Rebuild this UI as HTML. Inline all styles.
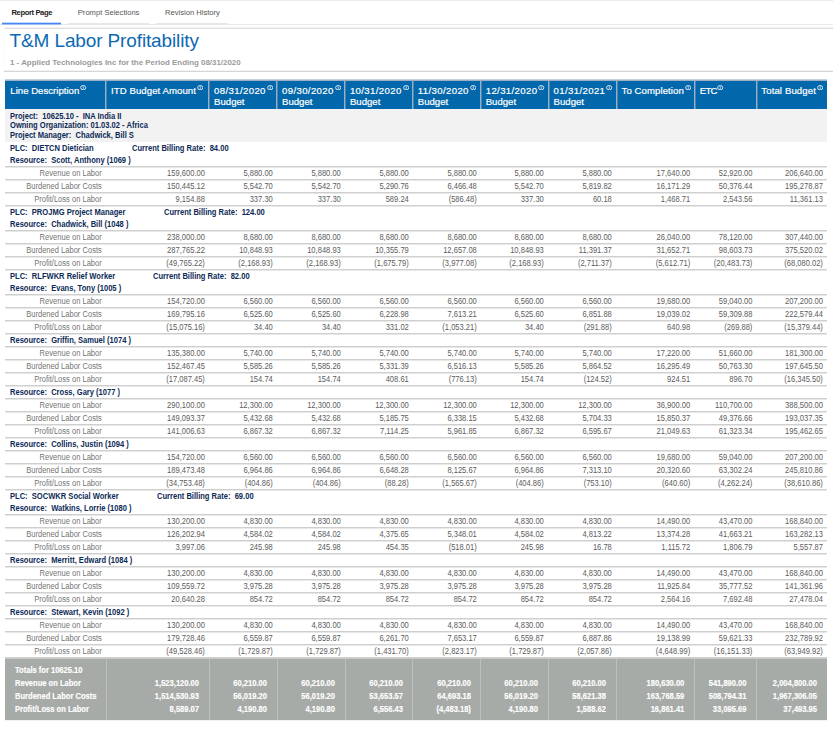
<!DOCTYPE html>
<html><head><meta charset="utf-8"><title>T&amp;M Labor Profitability</title>
<style>
html,body{margin:0;padding:0;background:#fff;}
body{width:833px;height:729px;position:relative;overflow:hidden;font-family:"Liberation Sans",sans-serif;}
.a{position:absolute;white-space:pre;}
.ln{position:absolute;background:#cfcfcf;height:1px;box-shadow:0 1px 0 #e8e8e8;}
.b{font-weight:700;color:#0c2a56;font-size:8.3px;transform:scaleX(0.9108);transform-origin:left center;}
.lab{color:#747474;font-size:8.3px;text-align:right;transform:scaleX(0.9108);transform-origin:right center;}
.num{color:#5c5c5c;font-size:8.3px;text-align:right;transform:scaleX(0.9108);transform-origin:right center;}
.tn{color:#fff;-webkit-text-stroke:0.15px #fff;font-size:8.3px;font-weight:700;text-align:right;transform:scaleX(0.9108);transform-origin:right center;}
.tl{color:#fff;-webkit-text-stroke:0.15px #fff;font-size:8.3px;font-weight:700;transform:scaleX(0.9108);transform-origin:left center;}
.hd{color:#fff;-webkit-text-stroke:0.2px #fff;font-size:9.6px;letter-spacing:0px;line-height:11px;}
.hd svg{position:relative;top:-3.6px;margin-left:0.9px;margin-right:-7px;}
.dt{letter-spacing:0.37px;}
.tab{font-size:7.6px;color:#555;}
</style></head>
<body>
<div class="a" style="left:0;top:0;width:833px;height:1px;background:#ebebeb"></div>
<div class="a" style="left:68px;top:23px;width:81px;height:1px;background:#e7e7e7"></div>
<div class="a" style="left:156px;top:23px;width:72px;height:1px;background:#e7e7e7"></div>
<div class="a" style="left:0;top:24px;width:228px;height:1px;background:#e7e7e7"></div>
<div class="a" style="left:228px;top:24px;width:605px;height:1px;background:#ececec"></div>
<div class="a" style="left:2px;top:22px;width:59px;height:1px;background:#c3d7fb"></div>
<div class="a" style="left:2px;top:23px;width:59px;height:1px;background:#4685f5"></div>
<div class="a" style="left:2px;top:24px;width:59px;height:1px;background:#9dbef9"></div>
<div class="a tab" style="left:11.5px;top:7.9px;line-height:10px;font-weight:700;color:#222;letter-spacing:-0.38px">Report Page</div>
<div class="a tab" style="left:77.8px;top:7.9px;line-height:10px;">Prompt Selections</div>
<div class="a tab" style="left:165px;top:7.9px;line-height:10px;">Revision History</div>
<div class="a" style="left:4px;top:27px;width:829px;height:1px;background:#f2f2f2"></div>
<div class="a" style="left:4px;top:28px;width:829px;height:1px;background:#e0e0e0"></div>
<div class="a" style="left:4px;top:28px;width:1px;height:43px;background:#fafafa"></div>
<div class="a" style="left:4px;top:70px;width:829px;height:1px;background:#f3f3f3"></div>
<div class="a" style="left:4px;top:71px;width:829px;height:1px;background:#d6d6d6"></div>
<div class="a" style="left:9.6px;top:30.1px;font-size:19px;letter-spacing:-0.13px;line-height:22px;color:#0c69b3;">T&amp;M Labor Profitability</div>
<div class="a" style="left:10px;top:58.4px;font-size:7.92px;line-height:10px;color:#9a9a9a;font-weight:700;">1 - Applied Technologies Inc for the Period Ending 08/31/2020</div>
<div class="a" style="left:5px;top:79px;width:822px;height:30px;background:#0268ab"></div>
<div class="a" style="left:105px;top:79px;width:1px;height:30px;background:#96b0c6"></div>
<div class="a" style="left:106px;top:79px;width:1px;height:30px;background:#4c86b7"></div>
<div class="a" style="left:208px;top:79px;width:1px;height:30px;background:#96b0c6"></div>
<div class="a" style="left:209px;top:79px;width:1px;height:30px;background:#4c86b7"></div>
<div class="a" style="left:276px;top:79px;width:1px;height:30px;background:#96b0c6"></div>
<div class="a" style="left:277px;top:79px;width:1px;height:30px;background:#4c86b7"></div>
<div class="a" style="left:344px;top:79px;width:1px;height:30px;background:#96b0c6"></div>
<div class="a" style="left:345px;top:79px;width:1px;height:30px;background:#4c86b7"></div>
<div class="a" style="left:412px;top:79px;width:1px;height:30px;background:#96b0c6"></div>
<div class="a" style="left:413px;top:79px;width:1px;height:30px;background:#4c86b7"></div>
<div class="a" style="left:480px;top:79px;width:1px;height:30px;background:#96b0c6"></div>
<div class="a" style="left:481px;top:79px;width:1px;height:30px;background:#4c86b7"></div>
<div class="a" style="left:548px;top:79px;width:1px;height:30px;background:#96b0c6"></div>
<div class="a" style="left:549px;top:79px;width:1px;height:30px;background:#4c86b7"></div>
<div class="a" style="left:616px;top:79px;width:1px;height:30px;background:#96b0c6"></div>
<div class="a" style="left:617px;top:79px;width:1px;height:30px;background:#4c86b7"></div>
<div class="a" style="left:694px;top:79px;width:1px;height:30px;background:#96b0c6"></div>
<div class="a" style="left:695px;top:79px;width:1px;height:30px;background:#4c86b7"></div>
<div class="a" style="left:756px;top:79px;width:1px;height:30px;background:#96b0c6"></div>
<div class="a" style="left:757px;top:79px;width:1px;height:30px;background:#4c86b7"></div>
<div class="a" style="left:5px;top:79px;width:822px;height:1px;background:#c3d2de"></div>
<div class="a" style="left:5px;top:80px;width:822px;height:1px;background:#9fb2c5"></div>
<div class="a hd" style="left:10.3px;top:85.0px;letter-spacing:0.01px">Line Description<svg width="6.4" height="5.4" viewBox="0 0 12.8 10.8"><ellipse cx="6.4" cy="5.4" rx="5.2" ry="4.3" fill="none" stroke="#e6eef7" stroke-width="1.9"/><rect x="5.5" y="2.8" width="1.8" height="5.2" fill="#c9dcee"/></svg></div>
<div class="a hd" style="left:111.1px;top:85.0px;letter-spacing:0.07px">ITD Budget Amount<svg width="6.4" height="5.4" viewBox="0 0 12.8 10.8"><ellipse cx="6.4" cy="5.4" rx="5.2" ry="4.3" fill="none" stroke="#e6eef7" stroke-width="1.9"/><rect x="5.5" y="2.8" width="1.8" height="5.2" fill="#c9dcee"/></svg></div>
<div class="a hd" style="left:214.10000000000002px;top:85.0px"><span class="dt">08/31/2020</span><svg width="6.4" height="5.4" viewBox="0 0 12.8 10.8"><ellipse cx="6.4" cy="5.4" rx="5.2" ry="4.3" fill="none" stroke="#e6eef7" stroke-width="1.9"/><rect x="5.5" y="2.8" width="1.8" height="5.2" fill="#c9dcee"/></svg>
Budget</div>
<div class="a hd" style="left:282.0px;top:85.0px"><span class="dt">09/30/2020</span><svg width="6.4" height="5.4" viewBox="0 0 12.8 10.8"><ellipse cx="6.4" cy="5.4" rx="5.2" ry="4.3" fill="none" stroke="#e6eef7" stroke-width="1.9"/><rect x="5.5" y="2.8" width="1.8" height="5.2" fill="#c9dcee"/></svg>
Budget</div>
<div class="a hd" style="left:349.90000000000003px;top:85.0px"><span class="dt">10/31/2020</span><svg width="6.4" height="5.4" viewBox="0 0 12.8 10.8"><ellipse cx="6.4" cy="5.4" rx="5.2" ry="4.3" fill="none" stroke="#e6eef7" stroke-width="1.9"/><rect x="5.5" y="2.8" width="1.8" height="5.2" fill="#c9dcee"/></svg>
Budget</div>
<div class="a hd" style="left:417.8px;top:85.0px"><span class="dt">11/30/2020</span><svg width="6.4" height="5.4" viewBox="0 0 12.8 10.8"><ellipse cx="6.4" cy="5.4" rx="5.2" ry="4.3" fill="none" stroke="#e6eef7" stroke-width="1.9"/><rect x="5.5" y="2.8" width="1.8" height="5.2" fill="#c9dcee"/></svg>
Budget</div>
<div class="a hd" style="left:485.7px;top:85.0px"><span class="dt">12/31/2020</span><svg width="6.4" height="5.4" viewBox="0 0 12.8 10.8"><ellipse cx="6.4" cy="5.4" rx="5.2" ry="4.3" fill="none" stroke="#e6eef7" stroke-width="1.9"/><rect x="5.5" y="2.8" width="1.8" height="5.2" fill="#c9dcee"/></svg>
Budget</div>
<div class="a hd" style="left:553.5999999999999px;top:85.0px"><span class="dt">01/31/2021</span><svg width="6.4" height="5.4" viewBox="0 0 12.8 10.8"><ellipse cx="6.4" cy="5.4" rx="5.2" ry="4.3" fill="none" stroke="#e6eef7" stroke-width="1.9"/><rect x="5.5" y="2.8" width="1.8" height="5.2" fill="#c9dcee"/></svg>
Budget</div>
<div class="a hd" style="left:621.5px;top:85.0px;letter-spacing:0.08px">To Completion<svg width="6.4" height="5.4" viewBox="0 0 12.8 10.8"><ellipse cx="6.4" cy="5.4" rx="5.2" ry="4.3" fill="none" stroke="#e6eef7" stroke-width="1.9"/><rect x="5.5" y="2.8" width="1.8" height="5.2" fill="#c9dcee"/></svg></div>
<div class="a hd" style="left:699.8px;top:85.0px;letter-spacing:-0.8px">ETC<svg width="6.4" height="5.4" viewBox="0 0 12.8 10.8"><ellipse cx="6.4" cy="5.4" rx="5.2" ry="4.3" fill="none" stroke="#e6eef7" stroke-width="1.9"/><rect x="5.5" y="2.8" width="1.8" height="5.2" fill="#c9dcee"/></svg></div>
<div class="a hd" style="left:761.3px;top:85.0px;letter-spacing:0.11px">Total Budget<svg width="6.4" height="5.4" viewBox="0 0 12.8 10.8"><ellipse cx="6.4" cy="5.4" rx="5.2" ry="4.3" fill="none" stroke="#e6eef7" stroke-width="1.9"/><rect x="5.5" y="2.8" width="1.8" height="5.2" fill="#c9dcee"/></svg></div>
<div class="a" style="left:5px;top:109px;width:822px;height:33px;background:#f2f2f2"></div>
<div class="a b" style="left:10px;top:111.6px;line-height:9.6px">Project:  10625.10 -  INA India II
Owning Organization: 01.03.02 - Africa
Project Manager:  Chadwick, Bill S</div>
<div class="a b" style="left:10px;top:141.6px;line-height:13px">PLC:  DIETCN Dietician</div>
<div class="a b" style="left:131.8px;top:141.6px;line-height:13px">Current Billing Rate:  84.00</div>
<div class="a b" style="left:10px;top:153.6px;line-height:13px">Resource:  Scott, Anthony (1069 )</div>
<div class="ln" style="left:5px;top:166px;width:822px"></div>
<div class="a lab" style="left:5px;top:166.6px;width:96.80px;line-height:13px">Revenue on Labor</div>
<div class="a num" style="left:105.8px;top:166.6px;width:98.90px;line-height:13px">159,600.00</div>
<div class="a num" style="left:208.8px;top:166.6px;width:63.80px;line-height:13px">5,880.00</div>
<div class="a num" style="left:276.7px;top:166.6px;width:63.80px;line-height:13px">5,880.00</div>
<div class="a num" style="left:344.6px;top:166.6px;width:63.80px;line-height:13px">5,880.00</div>
<div class="a num" style="left:412.5px;top:166.6px;width:63.80px;line-height:13px">5,880.00</div>
<div class="a num" style="left:480.4px;top:166.6px;width:63.80px;line-height:13px">5,880.00</div>
<div class="a num" style="left:548.3px;top:166.6px;width:63.80px;line-height:13px">5,880.00</div>
<div class="a num" style="left:616.2px;top:166.6px;width:74.20px;line-height:13px">17,640.00</div>
<div class="a num" style="left:694.5px;top:166.6px;width:57.40px;line-height:13px">52,920.00</div>
<div class="a num" style="left:756px;top:166.6px;width:66.90px;line-height:13px">206,640.00</div>
<div class="ln" style="left:5px;top:179px;width:822px"></div>
<div class="a lab" style="left:5px;top:179.6px;width:96.80px;line-height:13px">Burdened Labor Costs</div>
<div class="a num" style="left:105.8px;top:179.6px;width:98.90px;line-height:13px">150,445.12</div>
<div class="a num" style="left:208.8px;top:179.6px;width:63.80px;line-height:13px">5,542.70</div>
<div class="a num" style="left:276.7px;top:179.6px;width:63.80px;line-height:13px">5,542.70</div>
<div class="a num" style="left:344.6px;top:179.6px;width:63.80px;line-height:13px">5,290.76</div>
<div class="a num" style="left:412.5px;top:179.6px;width:63.80px;line-height:13px">6,466.48</div>
<div class="a num" style="left:480.4px;top:179.6px;width:63.80px;line-height:13px">5,542.70</div>
<div class="a num" style="left:548.3px;top:179.6px;width:63.80px;line-height:13px">5,819.82</div>
<div class="a num" style="left:616.2px;top:179.6px;width:74.20px;line-height:13px">16,171.29</div>
<div class="a num" style="left:694.5px;top:179.6px;width:57.40px;line-height:13px">50,376.44</div>
<div class="a num" style="left:756px;top:179.6px;width:66.90px;line-height:13px">195,278.87</div>
<div class="ln" style="left:5px;top:192px;width:822px"></div>
<div class="a lab" style="left:5px;top:192.6px;width:96.80px;line-height:13px">Profit/Loss on Labor</div>
<div class="a num" style="left:105.8px;top:192.6px;width:98.90px;line-height:13px">9,154.88</div>
<div class="a num" style="left:208.8px;top:192.6px;width:63.80px;line-height:13px">337.30</div>
<div class="a num" style="left:276.7px;top:192.6px;width:63.80px;line-height:13px">337.30</div>
<div class="a num" style="left:344.6px;top:192.6px;width:63.80px;line-height:13px">589.24</div>
<div class="a num" style="left:412.5px;top:192.6px;width:63.80px;line-height:13px">(586.48)</div>
<div class="a num" style="left:480.4px;top:192.6px;width:63.80px;line-height:13px">337.30</div>
<div class="a num" style="left:548.3px;top:192.6px;width:63.80px;line-height:13px">60.18</div>
<div class="a num" style="left:616.2px;top:192.6px;width:74.20px;line-height:13px">1,468.71</div>
<div class="a num" style="left:694.5px;top:192.6px;width:57.40px;line-height:13px">2,543.56</div>
<div class="a num" style="left:756px;top:192.6px;width:66.90px;line-height:13px">11,361.13</div>
<div class="ln" style="left:5px;top:205px;width:822px"></div>
<div class="a b" style="left:10px;top:205.6px;line-height:13px">PLC:  PROJMG Project Manager</div>
<div class="a b" style="left:163.9px;top:205.6px;line-height:13px">Current Billing Rate:  124.00</div>
<div class="a b" style="left:10px;top:217.6px;line-height:13px">Resource:  Chadwick, Bill (1048 )</div>
<div class="ln" style="left:5px;top:230px;width:822px"></div>
<div class="a lab" style="left:5px;top:230.6px;width:96.80px;line-height:13px">Revenue on Labor</div>
<div class="a num" style="left:105.8px;top:230.6px;width:98.90px;line-height:13px">238,000.00</div>
<div class="a num" style="left:208.8px;top:230.6px;width:63.80px;line-height:13px">8,680.00</div>
<div class="a num" style="left:276.7px;top:230.6px;width:63.80px;line-height:13px">8,680.00</div>
<div class="a num" style="left:344.6px;top:230.6px;width:63.80px;line-height:13px">8,680.00</div>
<div class="a num" style="left:412.5px;top:230.6px;width:63.80px;line-height:13px">8,680.00</div>
<div class="a num" style="left:480.4px;top:230.6px;width:63.80px;line-height:13px">8,680.00</div>
<div class="a num" style="left:548.3px;top:230.6px;width:63.80px;line-height:13px">8,680.00</div>
<div class="a num" style="left:616.2px;top:230.6px;width:74.20px;line-height:13px">26,040.00</div>
<div class="a num" style="left:694.5px;top:230.6px;width:57.40px;line-height:13px">78,120.00</div>
<div class="a num" style="left:756px;top:230.6px;width:66.90px;line-height:13px">307,440.00</div>
<div class="ln" style="left:5px;top:243px;width:822px"></div>
<div class="a lab" style="left:5px;top:243.6px;width:96.80px;line-height:13px">Burdened Labor Costs</div>
<div class="a num" style="left:105.8px;top:243.6px;width:98.90px;line-height:13px">287,765.22</div>
<div class="a num" style="left:208.8px;top:243.6px;width:63.80px;line-height:13px">10,848.93</div>
<div class="a num" style="left:276.7px;top:243.6px;width:63.80px;line-height:13px">10,848.93</div>
<div class="a num" style="left:344.6px;top:243.6px;width:63.80px;line-height:13px">10,355.79</div>
<div class="a num" style="left:412.5px;top:243.6px;width:63.80px;line-height:13px">12,657.08</div>
<div class="a num" style="left:480.4px;top:243.6px;width:63.80px;line-height:13px">10,848.93</div>
<div class="a num" style="left:548.3px;top:243.6px;width:63.80px;line-height:13px">11,391.37</div>
<div class="a num" style="left:616.2px;top:243.6px;width:74.20px;line-height:13px">31,652.71</div>
<div class="a num" style="left:694.5px;top:243.6px;width:57.40px;line-height:13px">98,603.73</div>
<div class="a num" style="left:756px;top:243.6px;width:66.90px;line-height:13px">375,520.02</div>
<div class="ln" style="left:5px;top:256px;width:822px"></div>
<div class="a lab" style="left:5px;top:256.6px;width:96.80px;line-height:13px">Profit/Loss on Labor</div>
<div class="a num" style="left:105.8px;top:256.6px;width:98.90px;line-height:13px">(49,765.22)</div>
<div class="a num" style="left:208.8px;top:256.6px;width:63.80px;line-height:13px">(2,168.93)</div>
<div class="a num" style="left:276.7px;top:256.6px;width:63.80px;line-height:13px">(2,168.93)</div>
<div class="a num" style="left:344.6px;top:256.6px;width:63.80px;line-height:13px">(1,675.79)</div>
<div class="a num" style="left:412.5px;top:256.6px;width:63.80px;line-height:13px">(3,977.08)</div>
<div class="a num" style="left:480.4px;top:256.6px;width:63.80px;line-height:13px">(2,168.93)</div>
<div class="a num" style="left:548.3px;top:256.6px;width:63.80px;line-height:13px">(2,711.37)</div>
<div class="a num" style="left:616.2px;top:256.6px;width:74.20px;line-height:13px">(5,612.71)</div>
<div class="a num" style="left:694.5px;top:256.6px;width:57.40px;line-height:13px">(20,483.73)</div>
<div class="a num" style="left:756px;top:256.6px;width:66.90px;line-height:13px">(68,080.02)</div>
<div class="ln" style="left:5px;top:269px;width:822px"></div>
<div class="a b" style="left:10px;top:269.6px;line-height:13px">PLC:  RLFWKR Relief Worker</div>
<div class="a b" style="left:153.2px;top:269.6px;line-height:13px">Current Billing Rate:  82.00</div>
<div class="a b" style="left:10px;top:281.6px;line-height:13px">Resource:  Evans, Tony (1005 )</div>
<div class="ln" style="left:5px;top:294px;width:822px"></div>
<div class="a lab" style="left:5px;top:294.6px;width:96.80px;line-height:13px">Revenue on Labor</div>
<div class="a num" style="left:105.8px;top:294.6px;width:98.90px;line-height:13px">154,720.00</div>
<div class="a num" style="left:208.8px;top:294.6px;width:63.80px;line-height:13px">6,560.00</div>
<div class="a num" style="left:276.7px;top:294.6px;width:63.80px;line-height:13px">6,560.00</div>
<div class="a num" style="left:344.6px;top:294.6px;width:63.80px;line-height:13px">6,560.00</div>
<div class="a num" style="left:412.5px;top:294.6px;width:63.80px;line-height:13px">6,560.00</div>
<div class="a num" style="left:480.4px;top:294.6px;width:63.80px;line-height:13px">6,560.00</div>
<div class="a num" style="left:548.3px;top:294.6px;width:63.80px;line-height:13px">6,560.00</div>
<div class="a num" style="left:616.2px;top:294.6px;width:74.20px;line-height:13px">19,680.00</div>
<div class="a num" style="left:694.5px;top:294.6px;width:57.40px;line-height:13px">59,040.00</div>
<div class="a num" style="left:756px;top:294.6px;width:66.90px;line-height:13px">207,200.00</div>
<div class="ln" style="left:5px;top:307px;width:822px"></div>
<div class="a lab" style="left:5px;top:307.6px;width:96.80px;line-height:13px">Burdened Labor Costs</div>
<div class="a num" style="left:105.8px;top:307.6px;width:98.90px;line-height:13px">169,795.16</div>
<div class="a num" style="left:208.8px;top:307.6px;width:63.80px;line-height:13px">6,525.60</div>
<div class="a num" style="left:276.7px;top:307.6px;width:63.80px;line-height:13px">6,525.60</div>
<div class="a num" style="left:344.6px;top:307.6px;width:63.80px;line-height:13px">6,228.98</div>
<div class="a num" style="left:412.5px;top:307.6px;width:63.80px;line-height:13px">7,613.21</div>
<div class="a num" style="left:480.4px;top:307.6px;width:63.80px;line-height:13px">6,525.60</div>
<div class="a num" style="left:548.3px;top:307.6px;width:63.80px;line-height:13px">6,851.88</div>
<div class="a num" style="left:616.2px;top:307.6px;width:74.20px;line-height:13px">19,039.02</div>
<div class="a num" style="left:694.5px;top:307.6px;width:57.40px;line-height:13px">59,309.88</div>
<div class="a num" style="left:756px;top:307.6px;width:66.90px;line-height:13px">222,579.44</div>
<div class="ln" style="left:5px;top:320px;width:822px"></div>
<div class="a lab" style="left:5px;top:320.6px;width:96.80px;line-height:13px">Profit/Loss on Labor</div>
<div class="a num" style="left:105.8px;top:320.6px;width:98.90px;line-height:13px">(15,075.16)</div>
<div class="a num" style="left:208.8px;top:320.6px;width:63.80px;line-height:13px">34.40</div>
<div class="a num" style="left:276.7px;top:320.6px;width:63.80px;line-height:13px">34.40</div>
<div class="a num" style="left:344.6px;top:320.6px;width:63.80px;line-height:13px">331.02</div>
<div class="a num" style="left:412.5px;top:320.6px;width:63.80px;line-height:13px">(1,053.21)</div>
<div class="a num" style="left:480.4px;top:320.6px;width:63.80px;line-height:13px">34.40</div>
<div class="a num" style="left:548.3px;top:320.6px;width:63.80px;line-height:13px">(291.88)</div>
<div class="a num" style="left:616.2px;top:320.6px;width:74.20px;line-height:13px">640.98</div>
<div class="a num" style="left:694.5px;top:320.6px;width:57.40px;line-height:13px">(269.88)</div>
<div class="a num" style="left:756px;top:320.6px;width:66.90px;line-height:13px">(15,379.44)</div>
<div class="ln" style="left:5px;top:333px;width:822px"></div>
<div class="a b" style="left:10px;top:333.6px;line-height:13px">Resource:  Griffin, Samuel (1074 )</div>
<div class="ln" style="left:5px;top:346px;width:822px"></div>
<div class="a lab" style="left:5px;top:346.6px;width:96.80px;line-height:13px">Revenue on Labor</div>
<div class="a num" style="left:105.8px;top:346.6px;width:98.90px;line-height:13px">135,380.00</div>
<div class="a num" style="left:208.8px;top:346.6px;width:63.80px;line-height:13px">5,740.00</div>
<div class="a num" style="left:276.7px;top:346.6px;width:63.80px;line-height:13px">5,740.00</div>
<div class="a num" style="left:344.6px;top:346.6px;width:63.80px;line-height:13px">5,740.00</div>
<div class="a num" style="left:412.5px;top:346.6px;width:63.80px;line-height:13px">5,740.00</div>
<div class="a num" style="left:480.4px;top:346.6px;width:63.80px;line-height:13px">5,740.00</div>
<div class="a num" style="left:548.3px;top:346.6px;width:63.80px;line-height:13px">5,740.00</div>
<div class="a num" style="left:616.2px;top:346.6px;width:74.20px;line-height:13px">17,220.00</div>
<div class="a num" style="left:694.5px;top:346.6px;width:57.40px;line-height:13px">51,660.00</div>
<div class="a num" style="left:756px;top:346.6px;width:66.90px;line-height:13px">181,300.00</div>
<div class="ln" style="left:5px;top:359px;width:822px"></div>
<div class="a lab" style="left:5px;top:359.6px;width:96.80px;line-height:13px">Burdened Labor Costs</div>
<div class="a num" style="left:105.8px;top:359.6px;width:98.90px;line-height:13px">152,467.45</div>
<div class="a num" style="left:208.8px;top:359.6px;width:63.80px;line-height:13px">5,585.26</div>
<div class="a num" style="left:276.7px;top:359.6px;width:63.80px;line-height:13px">5,585.26</div>
<div class="a num" style="left:344.6px;top:359.6px;width:63.80px;line-height:13px">5,331.39</div>
<div class="a num" style="left:412.5px;top:359.6px;width:63.80px;line-height:13px">6,516.13</div>
<div class="a num" style="left:480.4px;top:359.6px;width:63.80px;line-height:13px">5,585.26</div>
<div class="a num" style="left:548.3px;top:359.6px;width:63.80px;line-height:13px">5,864.52</div>
<div class="a num" style="left:616.2px;top:359.6px;width:74.20px;line-height:13px">16,295.49</div>
<div class="a num" style="left:694.5px;top:359.6px;width:57.40px;line-height:13px">50,763.30</div>
<div class="a num" style="left:756px;top:359.6px;width:66.90px;line-height:13px">197,645.50</div>
<div class="ln" style="left:5px;top:372px;width:822px"></div>
<div class="a lab" style="left:5px;top:372.6px;width:96.80px;line-height:13px">Profit/Loss on Labor</div>
<div class="a num" style="left:105.8px;top:372.6px;width:98.90px;line-height:13px">(17,087.45)</div>
<div class="a num" style="left:208.8px;top:372.6px;width:63.80px;line-height:13px">154.74</div>
<div class="a num" style="left:276.7px;top:372.6px;width:63.80px;line-height:13px">154.74</div>
<div class="a num" style="left:344.6px;top:372.6px;width:63.80px;line-height:13px">408.61</div>
<div class="a num" style="left:412.5px;top:372.6px;width:63.80px;line-height:13px">(776.13)</div>
<div class="a num" style="left:480.4px;top:372.6px;width:63.80px;line-height:13px">154.74</div>
<div class="a num" style="left:548.3px;top:372.6px;width:63.80px;line-height:13px">(124.52)</div>
<div class="a num" style="left:616.2px;top:372.6px;width:74.20px;line-height:13px">924.51</div>
<div class="a num" style="left:694.5px;top:372.6px;width:57.40px;line-height:13px">896.70</div>
<div class="a num" style="left:756px;top:372.6px;width:66.90px;line-height:13px">(16,345.50)</div>
<div class="ln" style="left:5px;top:385px;width:822px"></div>
<div class="a b" style="left:10px;top:385.6px;line-height:13px">Resource:  Cross, Gary (1077 )</div>
<div class="ln" style="left:5px;top:398px;width:822px"></div>
<div class="a lab" style="left:5px;top:398.6px;width:96.80px;line-height:13px">Revenue on Labor</div>
<div class="a num" style="left:105.8px;top:398.6px;width:98.90px;line-height:13px">290,100.00</div>
<div class="a num" style="left:208.8px;top:398.6px;width:63.80px;line-height:13px">12,300.00</div>
<div class="a num" style="left:276.7px;top:398.6px;width:63.80px;line-height:13px">12,300.00</div>
<div class="a num" style="left:344.6px;top:398.6px;width:63.80px;line-height:13px">12,300.00</div>
<div class="a num" style="left:412.5px;top:398.6px;width:63.80px;line-height:13px">12,300.00</div>
<div class="a num" style="left:480.4px;top:398.6px;width:63.80px;line-height:13px">12,300.00</div>
<div class="a num" style="left:548.3px;top:398.6px;width:63.80px;line-height:13px">12,300.00</div>
<div class="a num" style="left:616.2px;top:398.6px;width:74.20px;line-height:13px">36,900.00</div>
<div class="a num" style="left:694.5px;top:398.6px;width:57.40px;line-height:13px">110,700.00</div>
<div class="a num" style="left:756px;top:398.6px;width:66.90px;line-height:13px">388,500.00</div>
<div class="ln" style="left:5px;top:411px;width:822px"></div>
<div class="a lab" style="left:5px;top:411.6px;width:96.80px;line-height:13px">Burdened Labor Costs</div>
<div class="a num" style="left:105.8px;top:411.6px;width:98.90px;line-height:13px">149,093.37</div>
<div class="a num" style="left:208.8px;top:411.6px;width:63.80px;line-height:13px">5,432.68</div>
<div class="a num" style="left:276.7px;top:411.6px;width:63.80px;line-height:13px">5,432.68</div>
<div class="a num" style="left:344.6px;top:411.6px;width:63.80px;line-height:13px">5,185.75</div>
<div class="a num" style="left:412.5px;top:411.6px;width:63.80px;line-height:13px">6,338.15</div>
<div class="a num" style="left:480.4px;top:411.6px;width:63.80px;line-height:13px">5,432.68</div>
<div class="a num" style="left:548.3px;top:411.6px;width:63.80px;line-height:13px">5,704.33</div>
<div class="a num" style="left:616.2px;top:411.6px;width:74.20px;line-height:13px">15,850.37</div>
<div class="a num" style="left:694.5px;top:411.6px;width:57.40px;line-height:13px">49,376.66</div>
<div class="a num" style="left:756px;top:411.6px;width:66.90px;line-height:13px">193,037.35</div>
<div class="ln" style="left:5px;top:424px;width:822px"></div>
<div class="a lab" style="left:5px;top:424.6px;width:96.80px;line-height:13px">Profit/Loss on Labor</div>
<div class="a num" style="left:105.8px;top:424.6px;width:98.90px;line-height:13px">141,006.63</div>
<div class="a num" style="left:208.8px;top:424.6px;width:63.80px;line-height:13px">6,867.32</div>
<div class="a num" style="left:276.7px;top:424.6px;width:63.80px;line-height:13px">6,867.32</div>
<div class="a num" style="left:344.6px;top:424.6px;width:63.80px;line-height:13px">7,114.25</div>
<div class="a num" style="left:412.5px;top:424.6px;width:63.80px;line-height:13px">5,961.85</div>
<div class="a num" style="left:480.4px;top:424.6px;width:63.80px;line-height:13px">6,867.32</div>
<div class="a num" style="left:548.3px;top:424.6px;width:63.80px;line-height:13px">6,595.67</div>
<div class="a num" style="left:616.2px;top:424.6px;width:74.20px;line-height:13px">21,049.63</div>
<div class="a num" style="left:694.5px;top:424.6px;width:57.40px;line-height:13px">61,323.34</div>
<div class="a num" style="left:756px;top:424.6px;width:66.90px;line-height:13px">195,462.65</div>
<div class="ln" style="left:5px;top:437px;width:822px"></div>
<div class="a b" style="left:10px;top:437.6px;line-height:13px">Resource:  Collins, Justin (1094 )</div>
<div class="ln" style="left:5px;top:450px;width:822px"></div>
<div class="a lab" style="left:5px;top:450.6px;width:96.80px;line-height:13px">Revenue on Labor</div>
<div class="a num" style="left:105.8px;top:450.6px;width:98.90px;line-height:13px">154,720.00</div>
<div class="a num" style="left:208.8px;top:450.6px;width:63.80px;line-height:13px">6,560.00</div>
<div class="a num" style="left:276.7px;top:450.6px;width:63.80px;line-height:13px">6,560.00</div>
<div class="a num" style="left:344.6px;top:450.6px;width:63.80px;line-height:13px">6,560.00</div>
<div class="a num" style="left:412.5px;top:450.6px;width:63.80px;line-height:13px">6,560.00</div>
<div class="a num" style="left:480.4px;top:450.6px;width:63.80px;line-height:13px">6,560.00</div>
<div class="a num" style="left:548.3px;top:450.6px;width:63.80px;line-height:13px">6,560.00</div>
<div class="a num" style="left:616.2px;top:450.6px;width:74.20px;line-height:13px">19,680.00</div>
<div class="a num" style="left:694.5px;top:450.6px;width:57.40px;line-height:13px">59,040.00</div>
<div class="a num" style="left:756px;top:450.6px;width:66.90px;line-height:13px">207,200.00</div>
<div class="ln" style="left:5px;top:463px;width:822px"></div>
<div class="a lab" style="left:5px;top:463.6px;width:96.80px;line-height:13px">Burdened Labor Costs</div>
<div class="a num" style="left:105.8px;top:463.6px;width:98.90px;line-height:13px">189,473.48</div>
<div class="a num" style="left:208.8px;top:463.6px;width:63.80px;line-height:13px">6,964.86</div>
<div class="a num" style="left:276.7px;top:463.6px;width:63.80px;line-height:13px">6,964.86</div>
<div class="a num" style="left:344.6px;top:463.6px;width:63.80px;line-height:13px">6,648.28</div>
<div class="a num" style="left:412.5px;top:463.6px;width:63.80px;line-height:13px">8,125.67</div>
<div class="a num" style="left:480.4px;top:463.6px;width:63.80px;line-height:13px">6,964.86</div>
<div class="a num" style="left:548.3px;top:463.6px;width:63.80px;line-height:13px">7,313.10</div>
<div class="a num" style="left:616.2px;top:463.6px;width:74.20px;line-height:13px">20,320.60</div>
<div class="a num" style="left:694.5px;top:463.6px;width:57.40px;line-height:13px">63,302.24</div>
<div class="a num" style="left:756px;top:463.6px;width:66.90px;line-height:13px">245,810.86</div>
<div class="ln" style="left:5px;top:476px;width:822px"></div>
<div class="a lab" style="left:5px;top:476.6px;width:96.80px;line-height:13px">Profit/Loss on Labor</div>
<div class="a num" style="left:105.8px;top:476.6px;width:98.90px;line-height:13px">(34,753.48)</div>
<div class="a num" style="left:208.8px;top:476.6px;width:63.80px;line-height:13px">(404.86)</div>
<div class="a num" style="left:276.7px;top:476.6px;width:63.80px;line-height:13px">(404.86)</div>
<div class="a num" style="left:344.6px;top:476.6px;width:63.80px;line-height:13px">(88.28)</div>
<div class="a num" style="left:412.5px;top:476.6px;width:63.80px;line-height:13px">(1,565.67)</div>
<div class="a num" style="left:480.4px;top:476.6px;width:63.80px;line-height:13px">(404.86)</div>
<div class="a num" style="left:548.3px;top:476.6px;width:63.80px;line-height:13px">(753.10)</div>
<div class="a num" style="left:616.2px;top:476.6px;width:74.20px;line-height:13px">(640.60)</div>
<div class="a num" style="left:694.5px;top:476.6px;width:57.40px;line-height:13px">(4,262.24)</div>
<div class="a num" style="left:756px;top:476.6px;width:66.90px;line-height:13px">(38,610.86)</div>
<div class="ln" style="left:5px;top:489px;width:822px"></div>
<div class="a b" style="left:10px;top:489.6px;line-height:13px">PLC:  SOCWKR Social Worker</div>
<div class="a b" style="left:156.5px;top:489.6px;line-height:13px">Current Billing Rate:  69.00</div>
<div class="a b" style="left:10px;top:501.6px;line-height:13px">Resource:  Watkins, Lorrie (1080 )</div>
<div class="ln" style="left:5px;top:514px;width:822px"></div>
<div class="a lab" style="left:5px;top:514.6px;width:96.80px;line-height:13px">Revenue on Labor</div>
<div class="a num" style="left:105.8px;top:514.6px;width:98.90px;line-height:13px">130,200.00</div>
<div class="a num" style="left:208.8px;top:514.6px;width:63.80px;line-height:13px">4,830.00</div>
<div class="a num" style="left:276.7px;top:514.6px;width:63.80px;line-height:13px">4,830.00</div>
<div class="a num" style="left:344.6px;top:514.6px;width:63.80px;line-height:13px">4,830.00</div>
<div class="a num" style="left:412.5px;top:514.6px;width:63.80px;line-height:13px">4,830.00</div>
<div class="a num" style="left:480.4px;top:514.6px;width:63.80px;line-height:13px">4,830.00</div>
<div class="a num" style="left:548.3px;top:514.6px;width:63.80px;line-height:13px">4,830.00</div>
<div class="a num" style="left:616.2px;top:514.6px;width:74.20px;line-height:13px">14,490.00</div>
<div class="a num" style="left:694.5px;top:514.6px;width:57.40px;line-height:13px">43,470.00</div>
<div class="a num" style="left:756px;top:514.6px;width:66.90px;line-height:13px">168,840.00</div>
<div class="ln" style="left:5px;top:527px;width:822px"></div>
<div class="a lab" style="left:5px;top:527.6px;width:96.80px;line-height:13px">Burdened Labor Costs</div>
<div class="a num" style="left:105.8px;top:527.6px;width:98.90px;line-height:13px">126,202.94</div>
<div class="a num" style="left:208.8px;top:527.6px;width:63.80px;line-height:13px">4,584.02</div>
<div class="a num" style="left:276.7px;top:527.6px;width:63.80px;line-height:13px">4,584.02</div>
<div class="a num" style="left:344.6px;top:527.6px;width:63.80px;line-height:13px">4,375.65</div>
<div class="a num" style="left:412.5px;top:527.6px;width:63.80px;line-height:13px">5,348.01</div>
<div class="a num" style="left:480.4px;top:527.6px;width:63.80px;line-height:13px">4,584.02</div>
<div class="a num" style="left:548.3px;top:527.6px;width:63.80px;line-height:13px">4,813.22</div>
<div class="a num" style="left:616.2px;top:527.6px;width:74.20px;line-height:13px">13,374.28</div>
<div class="a num" style="left:694.5px;top:527.6px;width:57.40px;line-height:13px">41,663.21</div>
<div class="a num" style="left:756px;top:527.6px;width:66.90px;line-height:13px">163,282.13</div>
<div class="ln" style="left:5px;top:540px;width:822px"></div>
<div class="a lab" style="left:5px;top:540.6px;width:96.80px;line-height:13px">Profit/Loss on Labor</div>
<div class="a num" style="left:105.8px;top:540.6px;width:98.90px;line-height:13px">3,997.06</div>
<div class="a num" style="left:208.8px;top:540.6px;width:63.80px;line-height:13px">245.98</div>
<div class="a num" style="left:276.7px;top:540.6px;width:63.80px;line-height:13px">245.98</div>
<div class="a num" style="left:344.6px;top:540.6px;width:63.80px;line-height:13px">454.35</div>
<div class="a num" style="left:412.5px;top:540.6px;width:63.80px;line-height:13px">(518.01)</div>
<div class="a num" style="left:480.4px;top:540.6px;width:63.80px;line-height:13px">245.98</div>
<div class="a num" style="left:548.3px;top:540.6px;width:63.80px;line-height:13px">16.78</div>
<div class="a num" style="left:616.2px;top:540.6px;width:74.20px;line-height:13px">1,115.72</div>
<div class="a num" style="left:694.5px;top:540.6px;width:57.40px;line-height:13px">1,806.79</div>
<div class="a num" style="left:756px;top:540.6px;width:66.90px;line-height:13px">5,557.87</div>
<div class="ln" style="left:5px;top:553px;width:822px"></div>
<div class="a b" style="left:10px;top:553.6px;line-height:13px">Resource:  Merritt, Edward (1084 )</div>
<div class="ln" style="left:5px;top:566px;width:822px"></div>
<div class="a lab" style="left:5px;top:566.6px;width:96.80px;line-height:13px">Revenue on Labor</div>
<div class="a num" style="left:105.8px;top:566.6px;width:98.90px;line-height:13px">130,200.00</div>
<div class="a num" style="left:208.8px;top:566.6px;width:63.80px;line-height:13px">4,830.00</div>
<div class="a num" style="left:276.7px;top:566.6px;width:63.80px;line-height:13px">4,830.00</div>
<div class="a num" style="left:344.6px;top:566.6px;width:63.80px;line-height:13px">4,830.00</div>
<div class="a num" style="left:412.5px;top:566.6px;width:63.80px;line-height:13px">4,830.00</div>
<div class="a num" style="left:480.4px;top:566.6px;width:63.80px;line-height:13px">4,830.00</div>
<div class="a num" style="left:548.3px;top:566.6px;width:63.80px;line-height:13px">4,830.00</div>
<div class="a num" style="left:616.2px;top:566.6px;width:74.20px;line-height:13px">14,490.00</div>
<div class="a num" style="left:694.5px;top:566.6px;width:57.40px;line-height:13px">43,470.00</div>
<div class="a num" style="left:756px;top:566.6px;width:66.90px;line-height:13px">168,840.00</div>
<div class="ln" style="left:5px;top:579px;width:822px"></div>
<div class="a lab" style="left:5px;top:579.6px;width:96.80px;line-height:13px">Burdened Labor Costs</div>
<div class="a num" style="left:105.8px;top:579.6px;width:98.90px;line-height:13px">109,559.72</div>
<div class="a num" style="left:208.8px;top:579.6px;width:63.80px;line-height:13px">3,975.28</div>
<div class="a num" style="left:276.7px;top:579.6px;width:63.80px;line-height:13px">3,975.28</div>
<div class="a num" style="left:344.6px;top:579.6px;width:63.80px;line-height:13px">3,975.28</div>
<div class="a num" style="left:412.5px;top:579.6px;width:63.80px;line-height:13px">3,975.28</div>
<div class="a num" style="left:480.4px;top:579.6px;width:63.80px;line-height:13px">3,975.28</div>
<div class="a num" style="left:548.3px;top:579.6px;width:63.80px;line-height:13px">3,975.28</div>
<div class="a num" style="left:616.2px;top:579.6px;width:74.20px;line-height:13px">11,925.84</div>
<div class="a num" style="left:694.5px;top:579.6px;width:57.40px;line-height:13px">35,777.52</div>
<div class="a num" style="left:756px;top:579.6px;width:66.90px;line-height:13px">141,361.96</div>
<div class="ln" style="left:5px;top:592px;width:822px"></div>
<div class="a lab" style="left:5px;top:592.6px;width:96.80px;line-height:13px">Profit/Loss on Labor</div>
<div class="a num" style="left:105.8px;top:592.6px;width:98.90px;line-height:13px">20,640.28</div>
<div class="a num" style="left:208.8px;top:592.6px;width:63.80px;line-height:13px">854.72</div>
<div class="a num" style="left:276.7px;top:592.6px;width:63.80px;line-height:13px">854.72</div>
<div class="a num" style="left:344.6px;top:592.6px;width:63.80px;line-height:13px">854.72</div>
<div class="a num" style="left:412.5px;top:592.6px;width:63.80px;line-height:13px">854.72</div>
<div class="a num" style="left:480.4px;top:592.6px;width:63.80px;line-height:13px">854.72</div>
<div class="a num" style="left:548.3px;top:592.6px;width:63.80px;line-height:13px">854.72</div>
<div class="a num" style="left:616.2px;top:592.6px;width:74.20px;line-height:13px">2,564.16</div>
<div class="a num" style="left:694.5px;top:592.6px;width:57.40px;line-height:13px">7,692.48</div>
<div class="a num" style="left:756px;top:592.6px;width:66.90px;line-height:13px">27,478.04</div>
<div class="ln" style="left:5px;top:605px;width:822px"></div>
<div class="a b" style="left:10px;top:605.6px;line-height:13px">Resource:  Stewart, Kevin (1092 )</div>
<div class="ln" style="left:5px;top:618px;width:822px"></div>
<div class="a lab" style="left:5px;top:618.6px;width:96.80px;line-height:13px">Revenue on Labor</div>
<div class="a num" style="left:105.8px;top:618.6px;width:98.90px;line-height:13px">130,200.00</div>
<div class="a num" style="left:208.8px;top:618.6px;width:63.80px;line-height:13px">4,830.00</div>
<div class="a num" style="left:276.7px;top:618.6px;width:63.80px;line-height:13px">4,830.00</div>
<div class="a num" style="left:344.6px;top:618.6px;width:63.80px;line-height:13px">4,830.00</div>
<div class="a num" style="left:412.5px;top:618.6px;width:63.80px;line-height:13px">4,830.00</div>
<div class="a num" style="left:480.4px;top:618.6px;width:63.80px;line-height:13px">4,830.00</div>
<div class="a num" style="left:548.3px;top:618.6px;width:63.80px;line-height:13px">4,830.00</div>
<div class="a num" style="left:616.2px;top:618.6px;width:74.20px;line-height:13px">14,490.00</div>
<div class="a num" style="left:694.5px;top:618.6px;width:57.40px;line-height:13px">43,470.00</div>
<div class="a num" style="left:756px;top:618.6px;width:66.90px;line-height:13px">168,840.00</div>
<div class="ln" style="left:5px;top:631px;width:822px"></div>
<div class="a lab" style="left:5px;top:631.6px;width:96.80px;line-height:13px">Burdened Labor Costs</div>
<div class="a num" style="left:105.8px;top:631.6px;width:98.90px;line-height:13px">179,728.46</div>
<div class="a num" style="left:208.8px;top:631.6px;width:63.80px;line-height:13px">6,559.87</div>
<div class="a num" style="left:276.7px;top:631.6px;width:63.80px;line-height:13px">6,559.87</div>
<div class="a num" style="left:344.6px;top:631.6px;width:63.80px;line-height:13px">6,261.70</div>
<div class="a num" style="left:412.5px;top:631.6px;width:63.80px;line-height:13px">7,653.17</div>
<div class="a num" style="left:480.4px;top:631.6px;width:63.80px;line-height:13px">6,559.87</div>
<div class="a num" style="left:548.3px;top:631.6px;width:63.80px;line-height:13px">6,887.86</div>
<div class="a num" style="left:616.2px;top:631.6px;width:74.20px;line-height:13px">19,138.99</div>
<div class="a num" style="left:694.5px;top:631.6px;width:57.40px;line-height:13px">59,621.33</div>
<div class="a num" style="left:756px;top:631.6px;width:66.90px;line-height:13px">232,789.92</div>
<div class="ln" style="left:5px;top:644px;width:822px"></div>
<div class="a lab" style="left:5px;top:644.6px;width:96.80px;line-height:13px">Profit/Loss on Labor</div>
<div class="a num" style="left:105.8px;top:644.6px;width:98.90px;line-height:13px">(49,528.46)</div>
<div class="a num" style="left:208.8px;top:644.6px;width:63.80px;line-height:13px">(1,729.87)</div>
<div class="a num" style="left:276.7px;top:644.6px;width:63.80px;line-height:13px">(1,729.87)</div>
<div class="a num" style="left:344.6px;top:644.6px;width:63.80px;line-height:13px">(1,431.70)</div>
<div class="a num" style="left:412.5px;top:644.6px;width:63.80px;line-height:13px">(2,823.17)</div>
<div class="a num" style="left:480.4px;top:644.6px;width:63.80px;line-height:13px">(1,729.87)</div>
<div class="a num" style="left:548.3px;top:644.6px;width:63.80px;line-height:13px">(2,057.86)</div>
<div class="a num" style="left:616.2px;top:644.6px;width:74.20px;line-height:13px">(4,648.99)</div>
<div class="a num" style="left:694.5px;top:644.6px;width:57.40px;line-height:13px">(16,151.33)</div>
<div class="a num" style="left:756px;top:644.6px;width:66.90px;line-height:13px">(63,949.92)</div>
<div class="ln" style="left:5px;top:657px;width:822px"></div>
<div class="a" style="left:5px;top:658px;width:822px;height:62px;background:#a7aba8"></div>
<div class="a" style="left:106px;top:658px;width:1px;height:62px;background:#bcbfbc"></div>
<div class="a" style="left:209px;top:658px;width:1px;height:62px;background:#bcbfbc"></div>
<div class="a" style="left:277px;top:658px;width:1px;height:62px;background:#bcbfbc"></div>
<div class="a" style="left:345px;top:658px;width:1px;height:62px;background:#bcbfbc"></div>
<div class="a" style="left:412px;top:658px;width:1px;height:62px;background:#bcbfbc"></div>
<div class="a" style="left:480px;top:658px;width:1px;height:62px;background:#bcbfbc"></div>
<div class="a" style="left:548px;top:658px;width:1px;height:62px;background:#bcbfbc"></div>
<div class="a" style="left:616px;top:658px;width:1px;height:62px;background:#bcbfbc"></div>
<div class="a" style="left:694px;top:658px;width:1px;height:62px;background:#bcbfbc"></div>
<div class="a" style="left:756px;top:658px;width:1px;height:62px;background:#bcbfbc"></div>
<div class="a" style="left:5px;top:658px;width:822px;height:1px;background:#c9cac9"></div>
<div class="a" style="left:5px;top:720px;width:822px;height:1px;background:#f0f1f0"></div>
<div class="a tl" style="left:15.1px;top:663.5px;line-height:13px">Totals for 10625.10</div>
<div class="a tl" style="left:15.1px;top:676.5px;line-height:13px">Revenue on Labor</div>
<div class="a tn" style="left:105.8px;top:676.5px;width:93.00px;line-height:13px">1,523,120.00</div>
<div class="a tn" style="left:208.8px;top:676.5px;width:57.90px;line-height:13px">60,210.00</div>
<div class="a tn" style="left:276.7px;top:676.5px;width:57.90px;line-height:13px">60,210.00</div>
<div class="a tn" style="left:344.6px;top:676.5px;width:57.90px;line-height:13px">60,210.00</div>
<div class="a tn" style="left:412.5px;top:676.5px;width:57.90px;line-height:13px">60,210.00</div>
<div class="a tn" style="left:480.4px;top:676.5px;width:57.90px;line-height:13px">60,210.00</div>
<div class="a tn" style="left:548.3px;top:676.5px;width:57.90px;line-height:13px">60,210.00</div>
<div class="a tn" style="left:616.2px;top:676.5px;width:68.30px;line-height:13px">180,630.00</div>
<div class="a tn" style="left:694.5px;top:676.5px;width:51.50px;line-height:13px">541,890.00</div>
<div class="a tn" style="left:756px;top:676.5px;width:61.00px;line-height:13px">2,004,800.00</div>
<div class="a tl" style="left:15.1px;top:689.5px;line-height:13px">Burdened Labor Costs</div>
<div class="a tn" style="left:105.8px;top:689.5px;width:93.00px;line-height:13px">1,514,530.93</div>
<div class="a tn" style="left:208.8px;top:689.5px;width:57.90px;line-height:13px">56,019.20</div>
<div class="a tn" style="left:276.7px;top:689.5px;width:57.90px;line-height:13px">56,019.20</div>
<div class="a tn" style="left:344.6px;top:689.5px;width:57.90px;line-height:13px">53,653.57</div>
<div class="a tn" style="left:412.5px;top:689.5px;width:57.90px;line-height:13px">64,693.18</div>
<div class="a tn" style="left:480.4px;top:689.5px;width:57.90px;line-height:13px">56,019.20</div>
<div class="a tn" style="left:548.3px;top:689.5px;width:57.90px;line-height:13px">58,621.38</div>
<div class="a tn" style="left:616.2px;top:689.5px;width:68.30px;line-height:13px">163,768.59</div>
<div class="a tn" style="left:694.5px;top:689.5px;width:51.50px;line-height:13px">508,794.31</div>
<div class="a tn" style="left:756px;top:689.5px;width:61.00px;line-height:13px">1,967,306.05</div>
<div class="a tl" style="left:15.1px;top:702.5px;line-height:13px">Profit/Loss on Labor</div>
<div class="a tn" style="left:105.8px;top:702.5px;width:93.00px;line-height:13px">8,589.07</div>
<div class="a tn" style="left:208.8px;top:702.5px;width:57.90px;line-height:13px">4,190.80</div>
<div class="a tn" style="left:276.7px;top:702.5px;width:57.90px;line-height:13px">4,190.80</div>
<div class="a tn" style="left:344.6px;top:702.5px;width:57.90px;line-height:13px">6,556.43</div>
<div class="a tn" style="left:412.5px;top:702.5px;width:57.90px;line-height:13px">(4,483.18)</div>
<div class="a tn" style="left:480.4px;top:702.5px;width:57.90px;line-height:13px">4,190.80</div>
<div class="a tn" style="left:548.3px;top:702.5px;width:57.90px;line-height:13px">1,588.62</div>
<div class="a tn" style="left:616.2px;top:702.5px;width:68.30px;line-height:13px">16,861.41</div>
<div class="a tn" style="left:694.5px;top:702.5px;width:51.50px;line-height:13px">33,095.69</div>
<div class="a tn" style="left:756px;top:702.5px;width:61.00px;line-height:13px">37,493.95</div>
</body></html>
